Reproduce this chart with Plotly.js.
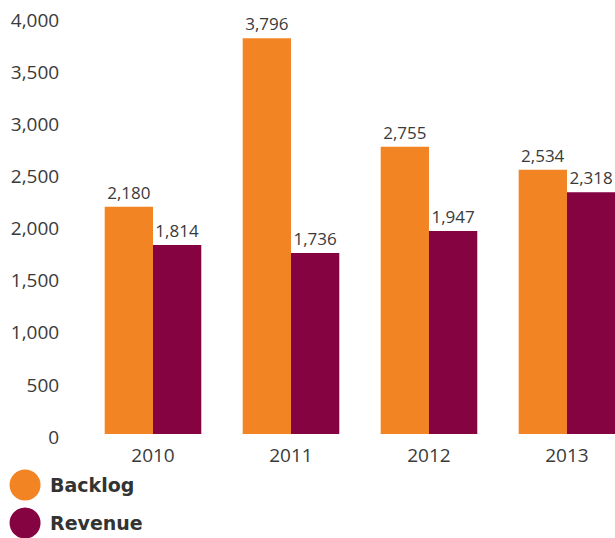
<!DOCTYPE html>
<html>
<head>
<meta charset="utf-8">
<script src="https://cdn.plot.ly/plotly-3.0.1.min.js"></script>
<style>html,body{margin:0;padding:0;background:#fff;}#chart{width:615px;height:538px;}</style>
</head>
<body>
<div id="chart"></div>
<script>
const years = ['2010', '2011', '2012', '2013'];
const seriesNames = ['Backlog', 'Revenue'];
const backlog = [2180, 3796, 2755, 2534];
const revenue = [1814, 1736, 1947, 2318];
const yTicks = [0, 500, 1000, 1500, 2000, 2500, 3000, 3500, 4000];

const colors = ['#F38424', '#850341'];
const valueFont = {family: 'Open Sans, sans-serif', size: 17, color: '#3a3a3a'};

const traces = [backlog, revenue].map((vals, i) => ({
  type: 'bar',
  name: seriesNames[i],
  x: years,
  y: vals,
  marker: {color: colors[i]},
  texttemplate: '%{y:,}',
  textposition: 'outside',
  textfont: valueFont,
  constraintext: 'none',
  cliponaxis: false,
  hoverinfo: 'skip',
  showlegend: false
}));

const shapes = [];
const annotations = [];
seriesNames.forEach((name, i) => {
  const cy = -0.1223 - i * 0.0911;
  shapes.push({
    type: 'circle', xref: 'paper', yref: 'paper',
    xsizemode: 'pixel', ysizemode: 'pixel',
    xanchor: -0.111, yanchor: cy,
    x0: -15.5, x1: 15.5, y0: -15.5, y1: 15.5,
    fillcolor: colors[i], line: {width: 0}
  });
  annotations.push({
    xref: 'paper', yref: 'paper', x: -0.067, y: cy,
    xanchor: 'left', yanchor: 'middle', showarrow: false,
    text: '<b>' + name + '</b>',
    font: {family: 'DejaVu Sans, sans-serif', size: 19, color: '#333333'}
  });
});

const layout = {
  width: 615, height: 538,
  margin: {l: 84, r: 0, t: 17, b: 104, pad: 0},
  paper_bgcolor: '#ffffff', plot_bgcolor: '#ffffff',
  barmode: 'group', bargap: 0.3, bargroupgap: 0,
  showlegend: false,
  xaxis: {
    type: 'category', range: [-0.5, 3.348],
    showgrid: false, zeroline: false, showline: false,
    ticks: 'outside', ticklen: 4, tickcolor: 'rgba(0,0,0,0)',
    tickfont: {family: 'Open Sans, sans-serif', size: 19, color: '#3a3a3a'},
    fixedrange: true
  },
  yaxis: {
    range: [0, 4000], tickvals: yTicks, tickformat: ',',
    showgrid: false, zeroline: false, showline: false,
    ticks: 'outside', ticklen: 20, tickcolor: 'rgba(0,0,0,0)',
    ticklabelshift: 3,
    tickfont: {family: 'Open Sans, sans-serif', size: 19, color: '#3a3a3a'},
    fixedrange: true
  },
  shapes: shapes,
  annotations: annotations
};

Plotly.newPlot('chart', traces, layout, {displayModeBar: false, staticPlot: true});
</script>
</body>
</html>
